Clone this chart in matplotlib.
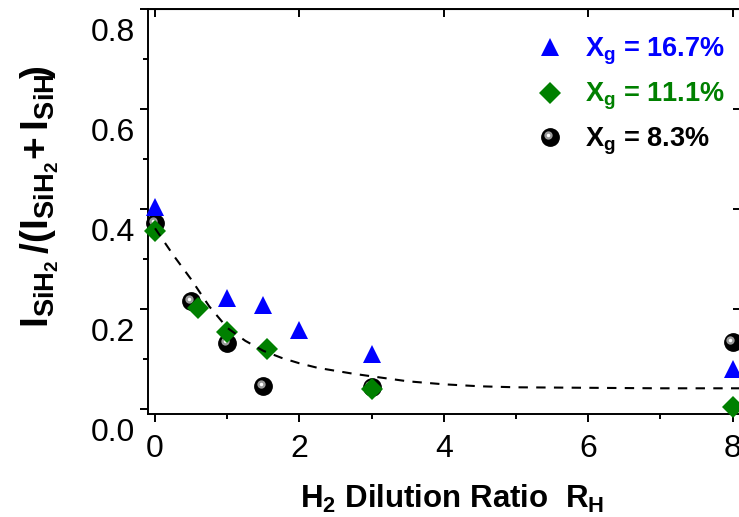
import matplotlib
matplotlib.use('Agg')
import matplotlib.pyplot as plt
from matplotlib.ticker import MultipleLocator
from matplotlib.transforms import ScaledTranslation, offset_copy

plt.rcParams['font.family'] = ['Liberation Sans', 'DejaVu Sans']
plt.rcParams['mathtext.fontset'] = 'custom'
plt.rcParams['mathtext.rm'] = 'Liberation Sans'
plt.rcParams['mathtext.bf'] = 'Liberation Sans:bold'
plt.rcParams['mathtext.it'] = 'Liberation Sans:italic'

# data
rh_167 = [0, 1, 1.5, 2, 3, 8]
ratio_167 = [0.404, 0.223, 0.209, 0.158, 0.111, 0.081]

rh_111 = [0, 0.6, 1, 1.55, 3, 8]
ratio_111 = [0.356, 0.203, 0.155, 0.121, 0.040, 0.004]

rh_83 = [0, 0.5, 1, 1.5, 3, 8]
ratio_83 = [0.372, 0.216, 0.132, 0.047, 0.045, 0.135]

# dashed guide curve
fit_x = [0, 0.25, 0.5, 0.75, 1.0, 1.25, 1.5, 1.75, 2.0, 2.25, 2.5, 2.75,
         3.0, 3.5, 4.0, 4.5, 5.0, 6.0, 7.0, 8.2]
fit_y = [0.362, 0.309, 0.260, 0.206, 0.163, 0.137, 0.117, 0.103, 0.092,
         0.083, 0.077, 0.071, 0.066, 0.056, 0.050, 0.046, 0.044, 0.043,
         0.042, 0.042]

xg_labels = ['16.7%', '11.1%', '8.3%']
xticks = [0, 2, 4, 6, 8]
yticks = [0.0, 0.2, 0.4, 0.6, 0.8]

W, H = 739, 517
fig = plt.figure(figsize=(W / 100, H / 100), dpi=100)
ax = fig.add_axes([147.8 / W, (H - 414.3) / H, 593.5 / W, 405 / H])

blue = '#0000ff'
green = '#008000'

# black spheres (circle + highlight)
ax.plot(rh_83, ratio_83, 'o', color='black', ms=12.5, mec='black',
        clip_on=False, zorder=2)
hl = offset_copy(ax.transData, fig=fig, x=-1.6, y=1.6, units='points')
ax.plot(rh_83, ratio_83, 'o', color='#9a9a9a', ms=6, mew=0,
        transform=hl, clip_on=False, zorder=2.1)
ax.plot(rh_83, ratio_83, 'o', color='white', ms=2.5, mew=0,
        transform=hl, clip_on=False, zorder=2.2)

ax.plot(rh_111, ratio_111, 'D', color=green, ms=11.5, mew=0,
        clip_on=False, zorder=3)
ax.plot(rh_167, ratio_167, '^', color=blue, ms=13.5, mew=0,
        clip_on=False, zorder=4)

ax.plot(fit_x, fit_y, color='black', lw=1.5, ls=(0, (4.5, 4)), zorder=5)

ax.set_xlim(-0.1, 8.12)
ax.set_ylim(-0.01, 0.8)

ax.set_xticks(xticks)
ax.set_yticks(yticks)
ax.xaxis.set_minor_locator(MultipleLocator(1))
ax.yaxis.set_minor_locator(MultipleLocator(0.1))
ax.tick_params(which='major', direction='out', length=6, width=1.4,
               labelsize=23)
ax.tick_params(which='minor', direction='out', length=3.5, width=1.4)
ax.tick_params(axis='x', pad=8)
ax.tick_params(axis='y', pad=3)
ax.set_yticklabels(['%.1f' % v for v in yticks])

# y tick labels sit a bit below their ticks in the original
shift = ScaledTranslation(0, -0.2, fig.dpi_scale_trans)
for lab in ax.get_yticklabels():
    lab.set_transform(lab.get_transform() + shift)

for sp in ax.spines.values():
    sp.set_linewidth(1.4)

top = ax.secondary_xaxis('top')
top.set_xticks(xticks)
top.tick_params(direction='in', length=6, width=1.4, labeltop=False)
right = ax.secondary_yaxis('right')
right.set_yticks(yticks)
right.tick_params(direction='in', length=6, width=1.4, labelright=False)

# axis titles
fig.text(452 / W, 1 - 499 / H, r'$\mathbf{H_2\ Dilution\ Ratio\ \ R_H}$',
         fontsize=22.5, ha='center', va='center')
fig.text(40 / W, 1 - 197 / H,
         r'$\mathbf{I_{SiH_2}\,/(I_{SiH_2}\!+I_{SiH}\!)}$',
         fontsize=28, rotation=90, ha='center', va='center')

# legend drawn by hand
mx = (550 - 147.8) / 593.5
tx = (585 - 147.8) / 593.5
ax.plot(mx, 0.907, '^', color=blue, ms=13.5, mew=0, transform=ax.transAxes)
ax.plot(mx, 0.793, 'D', color=green, ms=11.5, mew=0, transform=ax.transAxes)
ax.plot(mx, 0.685, 'o', color='black', ms=12.5, transform=ax.transAxes)
hl_leg = offset_copy(ax.transAxes, fig=fig, x=-1.6, y=1.6, units='points')
ax.plot(mx, 0.685, 'o', color='#9a9a9a', ms=6, mew=0, transform=hl_leg)
ax.plot(mx, 0.685, 'o', color='white', ms=2.5, mew=0, transform=hl_leg)

for lab, yb, col in zip(xg_labels, [0.883, 0.772, 0.662], [blue, green, 'black']):
    ax.text(tx, yb, r'$\mathbf{X_g}$ = ' + lab, transform=ax.transAxes,
            fontsize=19.5, fontweight='bold', color=col, va='baseline', ha='left')

fig.savefig('out.png', dpi=100)
